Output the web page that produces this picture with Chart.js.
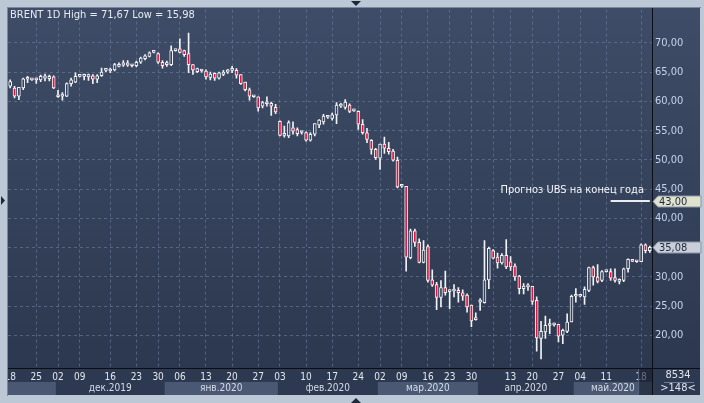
<!DOCTYPE html>
<html>
<head>
<meta charset="utf-8">
<script src="https://cdn.jsdelivr.net/npm/chart.js@4.4.0/dist/chart.umd.min.js"></script>
<style>
  html, body { margin: 0; padding: 0; background: #bdc8d7; }
  canvas { display: block; }
</style>
</head>
<body>
<canvas id="chart" width="704" height="403"></canvas>
<script>
// BRENT 1D, daily candles
const opens = [62.6, 62.3, 60.9, 62.3, 63.8, 63.7, 63.8, 63.7, 64.0, 63.9, 64.2, 60.9, 60.9, 60.9, 63.05, 63.3, 64.3, 64.3, 64.2, 64.4,
  63.8, 64.4, 65.3, 65.2, 65.4, 66.0, 66.2, 66.6, 66.1, 66.1, 66.7, 67.3, 67.7, 68.4, 68.2, 66.7, 66.3, 66.3, 68.7, 69.0,
  68.7, 68.2, 66.3, 65.1, 65.2, 65.2, 64.1, 64.8, 64.0, 64.6, 65.0, 65.3, 65.3, 64.6, 63.3, 62.0, 60.8, 60.8, 59.2, 59.6,
  59.7, 59.0, 56.6, 54.2, 54.1, 55.5, 55.2, 54.7, 54.7, 53.4, 54.4, 56.0, 56.5, 57.3, 57.1, 57.7, 59.2, 59.0, 59.4, 58.4,
  58.3, 56.1, 54.65, 53.35, 51.8, 50.3, 52.7, 52.0, 51.5, 49.95, 45.5, 45.5, 33.3, 37.9, 35.9, 32.5, 35.2, 29.5, 28.7, 26.5,
  28.2, 27.5, 27.6, 27.7, 27.3, 26.9, 25.2, 22.7, 25.7, 25.6, 29.5, 34.5, 33.4, 32.4, 33.7, 32.6, 31.85, 30.15, 28.0, 28.3,
  28.4, 26.0, 19.5, 20.6, 21.7, 21.8, 21.9, 20.05, 20.7, 22.3, 26.7, 26.7, 26.6, 27.7, 31.6, 30.0, 29.4, 30.9, 30.9, 29.9,
  29.25, 29.4, 31.4, 33.0, 32.6, 32.6, 35.5, 34.5];
const highs = [63.7, 62.6, 62.4, 64.0, 64.3, 63.9, 64.0, 64.5, 64.7, 64.5, 64.4, 61.9, 61.5, 63.2, 64.0, 64.9, 64.5, 64.7, 64.7, 64.6,
  64.6, 65.7, 65.4, 65.7, 66.5, 66.6, 67.0, 67.0, 66.3, 66.9, 67.6, 68.0, 68.5, 68.6, 68.3, 67.0, 66.9, 69.5, 68.9, 70.7,
  68.8, 71.67, 66.3, 65.7, 65.3, 65.4, 65.0, 64.9, 65.0, 65.3, 65.5, 66.0, 65.6, 64.6, 63.3, 62.3, 60.9, 60.8, 60.0, 60.8,
  59.9, 59.5, 56.7, 55.8, 56.7, 56.5, 55.5, 54.9, 54.8, 54.7, 56.2, 56.9, 57.8, 57.6, 58.0, 59.8, 59.7, 60.3, 59.6, 58.7,
  58.4, 56.9, 55.4, 53.5, 52.0, 52.7, 53.9, 53.0, 51.8, 50.5, 45.75, 45.5, 38.2, 38.2, 36.5, 36.2, 35.5, 31.2, 29.1, 29.4,
  31.0, 27.8, 28.7, 28.2, 27.8, 27.1, 25.2, 23.85, 26.3, 36.2, 35.1, 34.7, 34.1, 34.0, 36.4, 33.5, 32.25, 30.3, 28.85, 28.85,
  28.4, 26.6, 22.4, 23.3, 22.8, 22.1, 21.9, 21.1, 23.7, 26.9, 28.0, 26.9, 28.3, 31.7, 31.85, 32.1, 31.1, 31.1, 31.4, 31.4,
  29.7, 31.5, 33.1, 33.0, 32.7, 35.65, 35.65, 35.3];
const lows = [62.3, 60.6, 60.3, 62.0, 63.2, 63.6, 63.1, 63.4, 63.5, 63.5, 62.2, 60.7, 60.2, 60.8, 62.6, 63.2, 64.2, 63.7, 63.6, 63.05,
  63.2, 64.3, 65.1, 64.9, 65.2, 65.9, 66.0, 66.0, 65.9, 65.9, 66.5, 67.1, 67.6, 68.3, 66.5, 65.7, 66.0, 66.1, 68.6, 68.3,
  67.7, 64.9, 64.6, 64.9, 65.0, 63.8, 63.7, 63.6, 63.8, 64.4, 64.8, 64.9, 64.0, 62.9, 61.8, 60.2, 60.7, 58.35, 58.9, 59.2,
  57.6, 57.9, 54.1, 53.9, 53.8, 54.4, 54.1, 54.4, 53.2, 53.2, 54.1, 55.5, 56.1, 57.1, 56.8, 56.2, 59.0, 58.7, 58.1, 58.3,
  55.2, 54.4, 52.95, 50.97, 50.1, 48.4, 51.1, 51.0, 49.8, 45.2, 45.3, 31.0, 33.1, 35.2, 32.4, 32.4, 29.1, 28.4, 24.4, 24.9,
  26.9, 24.6, 26.6, 25.7, 26.0, 24.0, 21.5, 22.6, 24.3, 25.5, 28.0, 33.1, 31.5, 32.2, 31.4, 31.1, 29.4, 27.1, 27.1, 27.7,
  25.3, 17.3, 15.98, 19.5, 20.3, 21.6, 18.9, 18.6, 20.5, 22.3, 25.7, 26.6, 25.3, 27.5, 28.6, 29.0, 29.2, 30.8, 29.4, 29.1,
  28.8, 29.2, 30.8, 32.6, 32.5, 32.6, 34.1, 34.2];
const closes = [63.4, 60.9, 62.4, 63.85, 63.9, 63.8, 63.7, 64.3, 64.4, 64.3, 62.3, 60.8, 60.9, 63.05, 63.7, 64.3, 64.4, 64.5, 64.6, 63.8,
  64.4, 65.0, 65.3, 65.5, 66.3, 66.3, 66.6, 66.2, 66.1, 66.7, 67.4, 67.8, 68.3, 68.4, 66.7, 66.1, 66.6, 68.7, 68.8, 68.4,
  68.0, 66.3, 65.4, 65.6, 65.2, 64.2, 64.7, 64.0, 64.9, 65.0, 65.4, 65.4, 64.5, 63.05, 62.0, 60.9, 60.8, 58.9, 59.8, 59.7,
  59.2, 58.2, 54.2, 54.2, 56.4, 54.9, 54.5, 54.7, 53.4, 54.4, 56.2, 56.8, 57.5, 57.4, 57.7, 59.4, 59.5, 59.9, 58.3, 58.5,
  56.1, 54.65, 53.5, 51.8, 50.4, 52.7, 52.0, 51.4, 49.95, 45.4, 45.5, 33.4, 37.9, 35.9, 32.5, 34.6, 29.4, 28.6, 26.5, 28.2,
  27.3, 27.7, 27.6, 27.3, 26.7, 24.9, 22.5, 22.7, 25.75, 29.5, 34.9, 33.2, 32.4, 33.7, 31.7, 31.7, 30.0, 28.0, 28.45, 28.3,
  25.8, 19.6, 20.7, 21.75, 21.9, 21.9, 19.9, 20.9, 22.3, 26.7, 26.7, 26.75, 27.9, 31.6, 30.0, 29.25, 30.9, 31.0, 29.8, 29.4,
  29.3, 31.4, 33.0, 32.65, 32.65, 35.5, 34.5, 35.08];

// week starts on the time axis (bar index and day label)
const weekIdx = [0, 6, 11, 16, 23, 29, 34, 39, 45, 51, 57, 62, 68, 74, 80, 85, 90, 96, 101, 106, 111, 115, 120, 126, 131, 137, 145];
const weekText = ['18', '25', '02', '09', '16', '23', '30', '06', '13', '20', '27', '03', '10', '17', '24', '02', '09', '16', '23', '30', '', '13', '20', '27', '04', '11', '18'];
// month bands
const monthStart = [0, 11, 36, 62, 85, 108, 130];
const monthNames = ['', 'дек.2019', 'янв.2020', 'фев.2020', 'мар.2020', 'апр.2020', 'май.2020'];
// price axis
const priceTicks = [20, 25, 30, 35, 40, 45, 50, 55, 60, 65, 70];
// UBS year-end forecast
const forecastLevel = 43;
const forecastFrom = 138;
const forecastText = 'Прогноз UBS на конец года';

const FONT = "'Liberation Sans Narrow', 'DejaVu Sans Condensed', 'Liberation Sans', sans-serif";
const RED = '#e3123d';
const HOLLOW = '#35425b';
const WHITE = '#f1f3f6';
const GRID = 'rgba(108, 126, 158, 0.6)';

const labels = closes.map((c, i) => {
  const k = weekIdx.indexOf(i);
  return k >= 0 ? weekText[k] : '';
});
const fmt = v => v.toFixed(2).replace('.', ',');

const panel = {
  id: 'panel',
  beforeDraw(chart) {
    const { ctx, chartArea: a, scales: { x } } = chart;
    ctx.save();
    ctx.fillStyle = '#bdc8d7';
    ctx.fillRect(0, 0, chart.width, chart.height);
    const g = ctx.createLinearGradient(0, a.top, 0, a.bottom);
    g.addColorStop(0, '#3e4c67');
    g.addColorStop(1, '#2c384f');
    ctx.fillStyle = g;
    ctx.fillRect(8, 8, 692, a.bottom - 8);
    ctx.fillStyle = '#2d3950';
    ctx.fillRect(8, a.bottom, 692, 27);

    const half = (x.getPixelForValue(1) - x.getPixelForValue(0)) / 2;
    ctx.font = '10px ' + FONT;
    ctx.textAlign = 'center';
    ctx.textBaseline = 'middle';
    monthStart.forEach((s, m) => {
      const x0 = x.getPixelForValue(s) - half;
      const x1 = m + 1 < monthStart.length ? x.getPixelForValue(monthStart[m + 1]) - half : a.right;
      if (m % 2 === 0) {
        ctx.fillStyle = '#4a5873';
        ctx.fillRect(x0, a.bottom + 14, x1 - x0, 13);
      }
      ctx.fillStyle = '#d5dce8';
      ctx.fillText(monthNames[m], (x0 + x1) / 2, a.bottom + 20.5);
    });
    ctx.restore();
  },
  afterDraw(chart) {
    const { ctx, chartArea: a, scales: { x, y } } = chart;
    ctx.save();
    // frame strips
    ctx.fillStyle = '#bdc8d7';
    ctx.fillRect(0, 0, 8, chart.height);
    ctx.fillRect(0, 0, chart.width, 7);
    ctx.fillStyle = '#7a879c';
    ctx.fillRect(7, 7, 694, 1);
    ctx.fillRect(7, 7, 1, 389);

    // separators
    ctx.fillStyle = '#0b0e15';
    ctx.fillRect(8, a.bottom, 692, 1);
    ctx.fillRect(a.right, 8, 1, 387);

    // current bar highlight on time axis
    const hx = x.getPixelForValue(weekIdx[weekIdx.length - 1]) - 3;
    ctx.fillStyle = 'rgba(22, 30, 46, 0.6)';
    ctx.fillRect(hx, a.bottom + 1, a.right - hx, 26);
    ctx.fillStyle = '#5a677f';
    ctx.fillRect(hx, a.bottom + 1, 1, 26);

    // corner box
    ctx.font = '11px ' + FONT;
    ctx.textAlign = 'center';
    ctx.textBaseline = 'middle';
    ctx.fillStyle = '#dfe5ee';
    ctx.fillText('8534', 678, a.bottom + 7.5);
    ctx.fillText('>' + closes.length + '<', 678, a.bottom + 20.5);
    ctx.fillStyle = '#6f7c93';
    ctx.fillRect(664, a.bottom + 14, 30, 1);

    // header
    ctx.textAlign = 'left';
    ctx.fillStyle = '#e6ebf2';
    ctx.fillText('BRENT 1D High = ' + fmt(Math.max(...highs)) + ' Low = ' + fmt(Math.min(...lows)), 10, 15);

    // forecast note
    ctx.font = '11px ' + FONT;
    ctx.textAlign = 'right';
    ctx.fillStyle = '#f4f6f9';
    ctx.fillText(forecastText, 644, y.getPixelForValue(forecastLevel) - 11);

    // price tags
    const tag = (v, fill) => {
      const ty = Math.round(y.getPixelForValue(v)) + 0.5;
      ctx.beginPath();
      ctx.moveTo(653, ty);
      ctx.lineTo(658, ty - 5.5);
      ctx.lineTo(701, ty - 5.5);
      ctx.lineTo(701, ty + 5.5);
      ctx.lineTo(658, ty + 5.5);
      ctx.closePath();
      ctx.fillStyle = fill;
      ctx.fill();
      ctx.strokeStyle = '#8d96a6';
      ctx.lineWidth = 1;
      ctx.stroke();
      ctx.font = '11px ' + FONT;
      ctx.textAlign = 'left';
      ctx.fillStyle = '#1c2740';
      ctx.fillText(fmt(v), 659, ty + 0.5);
    };
    tag(forecastLevel, '#dfe2cc');
    tag(closes[closes.length - 1], '#c9ced8');

    // small pointers on the frame
    ctx.fillStyle = '#1f2838';
    ctx.beginPath();
    ctx.moveTo(351, 1); ctx.lineTo(361, 1); ctx.lineTo(356, 6); ctx.closePath(); ctx.fill();
    ctx.beginPath();
    ctx.moveTo(351, 403); ctx.lineTo(361, 403); ctx.lineTo(356, 398); ctx.closePath(); ctx.fill();
    ctx.beginPath();
    ctx.moveTo(1, 196); ctx.lineTo(1, 205); ctx.lineTo(5, 200.5); ctx.closePath(); ctx.fill();
    ctx.restore();
  }
};

new Chart(document.getElementById('chart'), {
  type: 'bar',
  data: {
    labels: labels,
    datasets: [
      {
        label: 'wick',
        data: lows.map((l, i) => [l, highs[i]]),
        backgroundColor: WHITE,
        barThickness: 1,
        grouped: false,
        order: 3
      },
      {
        label: 'body',
        data: opens.map((o, i) => [Math.min(o, closes[i]), Math.max(o, closes[i])]),
        backgroundColor: closes.map((c, i) => c < opens[i] ? RED : HOLLOW),
        borderColor: WHITE,
        borderWidth: 1,
        borderSkipped: false,
        barThickness: 3,
        minBarLength: 2,
        grouped: false,
        order: 2
      },
      {
        type: 'line',
        label: 'forecast',
        data: closes.map((c, i) => i >= forecastFrom ? forecastLevel : null),
        borderColor: '#e8ecf1',
        borderWidth: 2,
        pointRadius: 0,
        order: 1
      }
    ]
  },
  options: {
    responsive: false,
    animation: false,
    devicePixelRatio: 1,
    layout: { padding: { left: 8, top: 8, right: 4, bottom: 8 } },
    plugins: { legend: { display: false }, tooltip: { enabled: false } },
    scales: {
      x: {
        type: 'category',
        offset: true,
        grid: {
          offset: false,
          drawTicks: false,
          color: ctx => (ctx.index > 0 && weekIdx.includes(ctx.index)) ? GRID : 'transparent'
        },
        border: { display: false, dash: [3, 3] },
        ticks: {
          autoSkip: false,
          maxRotation: 0,
          padding: 3,
          color: '#e2e7ef',
          font: { family: FONT, size: 10 },
          callback: (v, i) => labels[i]
        },
        afterFit: s => { s.height = 27; }
      },
      y: {
        position: 'right',
        min: 14.44,
        max: 75.7,
        afterBuildTicks: s => { s.ticks = priceTicks.map(v => ({ value: v })); },
        grid: { drawTicks: false, color: GRID },
        border: { display: false, dash: [3, 3] },
        ticks: {
          padding: 3,
          color: '#c6d3ec',
          font: { family: FONT, size: 11 },
          callback: v => fmt(v)
        },
        afterFit: s => { s.width = 48; }
      }
    }
  },
  plugins: [panel]
});
</script>
</body>
</html>
